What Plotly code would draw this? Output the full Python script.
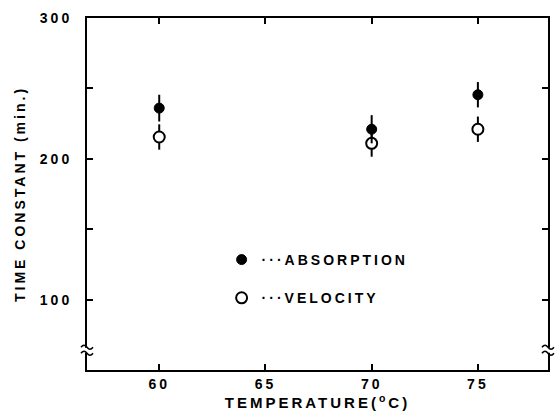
import plotly.graph_objects as go

temperature = [60, 70, 75]
absorption = [236, 221, 245.5]
absorption_err = [9.5, 10, 9]
velocity = [215.5, 211, 221]
velocity_err = [9, 9.5, 9]

x_ticks = [60, 65, 70, 75]
y_ticks = [100, 200, 300]
y_minor_ticks = [150, 250]
y_break = 64

FONT = "Liberation Sans"

fig = go.Figure()
fig.add_trace(go.Scatter(
    x=temperature, y=velocity, mode="markers", name="···VELOCITY",
    legendgroup="b", legendrank=2,
    marker=dict(symbol="circle", size=11, color="white",
                line=dict(color="black", width=2)),
    error_y=dict(type="data", array=velocity_err, color="black",
                 thickness=2, width=0),
))
fig.add_trace(go.Scatter(
    x=temperature, y=absorption, mode="markers", name="···ABSORPTION",
    legendgroup="a", legendrank=1,
    marker=dict(symbol="circle", size=10, color="black",
                line=dict(color="black", width=1)),
    error_y=dict(type="data", array=absorption_err, color="black",
                 thickness=2, width=0),
))

axis_common = dict(
    showline=True, linecolor="black", linewidth=2, mirror="ticks",
    ticks="inside", ticklen=6, tickwidth=1.5, tickcolor="black",
    showgrid=False, zeroline=False,
    tickfont=dict(family=FONT, size=14, color="black", weight="bold"),
)

fig.update_layout(
    width=555, height=418,
    margin=dict(l=87, r=5, t=18, b=48),
    paper_bgcolor="white", plot_bgcolor="white",
    font=dict(family=FONT, color="black"),
    xaxis=dict(range=[56.6, 78.3], tickvals=x_ticks,
               title=dict(text="TEMPERATURE(<sup>o</sup>C)", standoff=6,
                          font=dict(family=FONT, size=15, weight="bold")),
               **axis_common),
    yaxis=dict(range=[50, 300], tickvals=y_ticks,
               minor=dict(tickvals=y_minor_ticks, ticks="inside", ticklen=6,
                          tickwidth=1.5, tickcolor="black", showgrid=False),
               ticklabelstandoff=10,
               title=dict(text="TIME CONSTANT (min.)", standoff=20,
                          font=dict(family=FONT, size=14, weight="bold")),
               **axis_common),
    showlegend=True,
    legend=dict(x=0.292, y=0.358, xanchor="left", yanchor="top",
                bgcolor="rgba(0,0,0,0)", traceorder="grouped",
                tracegroupgap=17, itemwidth=30,
                font=dict(family=FONT, size=14, color="black", weight="bold")),
)

# axis break marks on left and right axes
tilde = "M -6,0 Q -3,4 0,0 T 6,0"
for xp in (0, 1):
    fig.add_shape(type="rect", xref="paper", yref="y", xsizemode="pixel",
                  ysizemode="pixel", xanchor=xp, yanchor=y_break,
                  x0=-3, x1=3, y0=-2.5, y1=2.5,
                  fillcolor="white", line=dict(width=0), layer="above")
    for dy in (-3, 3):
        path = "M -6,{a} Q -3,{b} 0,{a} T 6,{a}".format(a=dy, b=dy + 4)
        fig.add_shape(type="path", xref="paper", yref="y", xsizemode="pixel",
                      ysizemode="pixel", xanchor=xp, yanchor=y_break,
                      path=path, line=dict(color="black", width=1.5),
                      layer="above")

fig.write_html("out.html", post_script="""
document.querySelectorAll('.xtick text, .ytick text, .g-xtitle text, .g-ytitle text, .legendtext').forEach(function(t){t.style.letterSpacing='3px';});
document.querySelectorAll('.legend [clip-path], .legend .scrollbox').forEach(function(e){e.removeAttribute('clip-path');});
""")
